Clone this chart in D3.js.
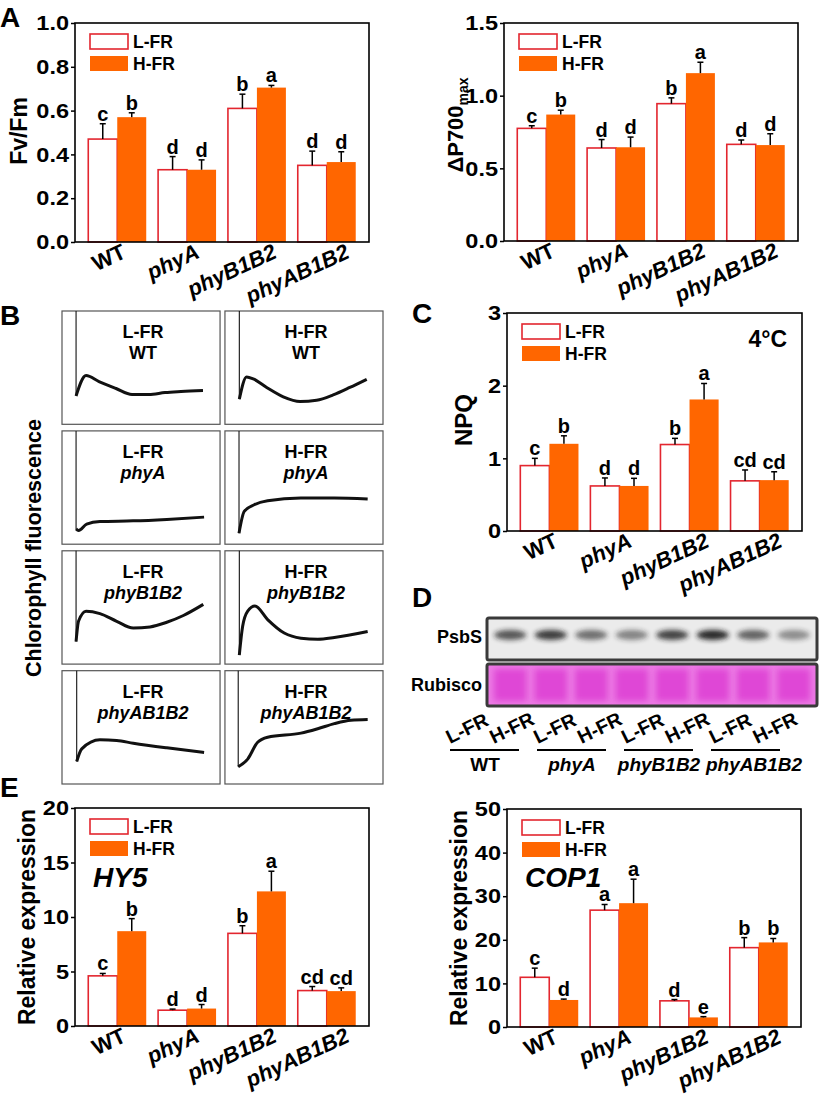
<!DOCTYPE html>
<html>
<head>
<meta charset="utf-8">
<script src="https://cdn.jsdelivr.net/npm/d3@7/dist/d3.min.js"></script>
<style>
  body { margin: 0; background: #fff; }
  text { font-family: "Liberation Sans", Arial, sans-serif; font-weight: bold; fill: #000; }
</style>
</head>
<body>
<svg id="fig" width="822" height="1099"></svg>
<script>
// Categories
var genotypes = ['WT', 'phyA', 'phyB1B2', 'phyAB1B2'];
var treatments = ['L-FR', 'H-FR'];

// A (left): Fv/Fm
var fvfmLow = [0.47, 0.33, 0.61, 0.35];
var fvfmLowErr = [0.07, 0.06, 0.065, 0.065];
var fvfmHigh = [0.57, 0.33, 0.705, 0.365];
var fvfmHighErr = [0.02, 0.045, 0.01, 0.047];
var fvfmLowLet = ['c', 'd', 'b', 'd'];
var fvfmHighLet = ['b', 'd', 'a', 'd'];
var fvfmTicks = [0, 0.2, 0.4, 0.6, 0.8, 1.0];

// A (right): dP700max
var p700Low = [0.775, 0.64, 0.945, 0.665];
var p700LowErr = [0.018, 0.058, 0.04, 0.03];
var p700High = [0.87, 0.645, 1.155, 0.66];
var p700HighErr = [0.03, 0.07, 0.075, 0.078];
var p700LowLet = ['c', 'd', 'b', 'd'];
var p700HighLet = ['b', 'd', 'a', 'd'];
var p700Ticks = [0, 0.5, 1.0, 1.5];

// C: NPQ at 4 C
var npqLow = [0.9, 0.62, 1.19, 0.69];
var npqLowErr = [0.1, 0.11, 0.085, 0.15];
var npqHigh = [1.2, 0.62, 1.81, 0.70];
var npqHighErr = [0.11, 0.105, 0.22, 0.115];
var npqLowLet = ['c', 'd', 'b', 'cd'];
var npqHighLet = ['b', 'd', 'a', 'cd'];
var npqTicks = [0, 1, 2, 3];

// E (left): HY5
var hy5Low = [4.6, 1.45, 8.5, 3.25];
var hy5LowErr = [0.22, 0.1, 0.7, 0.37];
var hy5High = [8.7, 1.6, 12.35, 3.2];
var hy5HighErr = [1.15, 0.37, 1.85, 0.3];
var hy5LowLet = ['c', 'd', 'b', 'cd'];
var hy5HighLet = ['b', 'd', 'a', 'cd'];
var hy5Ticks = [0, 5, 10, 15, 20];

// E (right): COP1
var cop1Low = [11.4, 26.8, 6.0, 18.2];
var cop1LowErr = [2.1, 1.3, 0.3, 2.3];
var cop1High = [6.2, 28.4, 2.2, 19.4];
var cop1HighErr = [0.2, 5.5, 0.17, 0.9];
var cop1LowLet = ['c', 'a', 'd', 'b'];
var cop1HighLet = ['d', 'a', 'e', 'b'];
var cop1Ticks = [0, 10, 20, 30, 40, 50];

// B: fluorescence traces, [time %, signal %]
var traceLowWT = [[8.9, 25], [15.2, 43], [23.4, 37.7], [34.2, 31.6], [44.3, 26.3], [55, 26.3], [65.2, 28], [75.3, 28.9], [89.2, 29.8]];
var traceHighWT = [[9.1, 22.2], [13.7, 41.8], [18, 40], [26.4, 32.5], [36.9, 24.3], [47.5, 20.2], [58, 21.3], [68.5, 26], [79, 32.5], [89.7, 39.7]];
var traceLowPhyA = [[8.9, 13.5], [10.5, 12], [15.6, 17.7], [24, 20], [45, 20.6], [66.3, 21.9], [89.9, 23.9]];
var traceHighPhyA = [[8.9, 9.7], [12.2, 28.9], [18.5, 34.8], [27, 38.3], [48, 40.7], [69.2, 40.7], [90.3, 39.8]];
var traceLowPhyB1B2 = [[8.9, 19.9], [10.5, 38], [15.2, 46.7], [24, 44.6], [34.6, 37.8], [45.1, 31.9], [55.7, 32.8], [66.3, 36.9], [76.8, 42.9], [89.4, 52.7]];
var traceHighPhyB1B2 = [[9.1, 8], [11.2, 33.3], [14.4, 46.7], [19, 51.2], [27, 39.3], [37.5, 27.4], [48.1, 22.9], [58.7, 22], [69.2, 23.5], [90.3, 28.8]];
var traceLowPhyAB1B2 = [[9.3, 19.9], [12.5, 31], [24, 39], [34.6, 38.4], [45.1, 36], [66.3, 31.9], [89.9, 27.9]];
var traceHighPhyAB1B2 = [[8.4, 15.2], [14.4, 22], [20.7, 36.9], [27, 41.3], [48.1, 44.9], [58.7, 48.8], [69.2, 53.3], [79.7, 56.3], [90.3, 56.9]];

// D: PsbS band darkness per lane (L-FR, H-FR for each genotype)
var psbsDensity = [0.72, 0.85, 0.6, 0.5, 0.82, 0.95, 0.66, 0.45];

var RED = '#e3262f', ORANGE = '#ff6600';
var FONT = '"Liberation Sans", Arial, sans-serif';
var svg = d3.select('#fig');
var defs = svg.append('defs');
defs.append('filter').attr('id', 'blurBand')
    .attr('x', '-50%').attr('y', '-100%').attr('width', '200%').attr('height', '300%')
  .append('feGaussianBlur').attr('stdDeviation', 2.8);
defs.append('filter').attr('id', 'blurLane')
    .attr('x', '-30%').attr('y', '-30%').attr('width', '160%').attr('height', '160%')
  .append('feGaussianBlur').attr('stdDeviation', 3);

// Stretch a text run sideways, the figure's font is wider than Arial.
function widen(sel, k) {
  sel.each(function() {
    var len = this.getComputedTextLength();
    d3.select(this).attr('textLength', len * k).attr('lengthAdjust', 'spacingAndGlyphs');
  });
}

// Bar chart panel (A, C, E)
function barPanel(c) {
  var g = svg.append('g');
  var x = d3.scaleBand().domain(genotypes).range([c.x, c.x + c.w]).paddingInner(0.17).paddingOuter(0.19);
  var xs = d3.scaleBand().domain(treatments).range([0, x.bandwidth()]);
  var y = d3.scaleLinear().domain([0, c.ticks[c.ticks.length - 1]]).range([c.y + c.h, c.y]);

  var rows = [];
  genotypes.forEach(function(gt, i) {
    rows.push({g: gt, t: 'L-FR', v: c.low[i], e: c.lowErr[i], s: c.lowLet[i]});
    rows.push({g: gt, t: 'H-FR', v: c.high[i], e: c.highErr[i], s: c.highLet[i]});
  });
  var cx = function(d) { return x(d.g) + xs(d.t) + xs.bandwidth() / 2; };

  // Bars.
  g.selectAll('rect.bar').data(rows).enter().append('rect')
    .attr('class', 'bar')
    .attr('x', function(d) { return x(d.g) + xs(d.t); })
    .attr('y', function(d) { return y(d.v); })
    .attr('width', xs.bandwidth())
    .attr('height', function(d) { return y(0) - y(d.v); })
    .attr('fill', function(d) { return d.t === 'L-FR' ? '#fff' : ORANGE; })
    .attr('stroke', function(d) { return d.t === 'L-FR' ? RED : 'none'; })
    .attr('stroke-width', 1.6);

  // Error bars, upper half only.
  var err = g.selectAll('g.err').data(rows).enter().append('g').attr('class', 'err');
  err.append('line')
    .attr('x1', cx).attr('x2', cx)
    .attr('y1', function(d) { return y(d.v); })
    .attr('y2', function(d) { return y(d.v + d.e); })
    .attr('stroke', '#000').attr('stroke-width', 1.5);
  err.append('line')
    .attr('x1', function(d) { return cx(d) - 3; })
    .attr('x2', function(d) { return cx(d) + 3; })
    .attr('y1', function(d) { return y(d.v + d.e); })
    .attr('y2', function(d) { return y(d.v + d.e); })
    .attr('stroke', '#000').attr('stroke-width', 1.5);

  // Significance letters.
  g.selectAll('text.sig').data(rows).enter().append('text')
    .attr('class', 'sig')
    .attr('x', cx)
    .attr('y', function(d) { return y(d.v + d.e) - 3; })
    .attr('text-anchor', 'middle')
    .style('font-size', '20px')
    .text(function(d) { return d.s; });

  // Frame.
  g.append('rect')
    .attr('x', c.x).attr('y', c.y).attr('width', c.w).attr('height', c.h)
    .attr('fill', 'none').attr('stroke', '#000').attr('stroke-width', 1.6);

  // Y axis.
  var ya = g.append('g').attr('transform', 'translate(' + c.x + ',0)')
    .call(d3.axisLeft(y).tickValues(c.ticks).tickSize(4).tickPadding(2).tickFormat(c.fmt));
  ya.select('.domain').remove();
  ya.selectAll('line').attr('stroke', '#000').attr('stroke-width', 1.5);
  ya.selectAll('text')
    .style('font-family', FONT)
    .style('font-weight', 'bold').style('font-size', '21px');
  widen(ya.selectAll('text'), 1.12);

  // Category labels.
  var xa = g.append('g').attr('transform', 'translate(0,' + (c.y + c.h) + ')')
    .call(d3.axisBottom(x).tickSize(0));
  xa.select('.domain').remove();
  xa.selectAll('text')
    .attr('y', 0).attr('dy', 0)
    .attr('text-anchor', 'end')
    .style('font-family', FONT)
    .style('font-weight', 'bold').style('font-size', '22px')
    .style('font-style', function(d) { return d === 'WT' ? 'normal' : 'italic'; })
    .attr('transform', function() {
      var len = this.getComputedTextLength();
      return 'translate(' + (0.18 * len + 4) + ',15) rotate(-25)';
    });

  // Y title.
  var title = g.append('text')
    .attr('transform', 'translate(' + c.titleX + ',' + c.titleY + ') rotate(-90)')
    .attr('text-anchor', 'middle')
    .style('font-size', c.titleSize || '22px');
  title.append('tspan').text(c.title);
  if (c.titleSub) {
    title.append('tspan').attr('dy', 5).style('font-size', '14px').text(c.titleSub);
  }

  // Legend.
  var leg = g.selectAll('g.leg').data(treatments).enter().append('g')
    .attr('class', 'leg')
    .attr('transform', function(d, i) { return 'translate(' + (c.x + 15) + ',' + (c.y + 11 + i * 22) + ')'; });
  leg.append('rect')
    .attr('width', 38).attr('height', 15)
    .attr('fill', function(d) { return d === 'L-FR' ? '#fff' : ORANGE; })
    .attr('stroke', function(d) { return d === 'L-FR' ? RED : 'none'; })
    .attr('stroke-width', 1.6);
  leg.append('text').attr('x', 43).attr('y', 14).style('font-size', '17.5px').text(function(d) { return d; });

  if (c.note) {
    g.append('text')
      .attr('x', c.note.x).attr('y', c.note.y)
      .attr('text-anchor', c.note.anchor || 'start')
      .style('font-size', c.note.size)
      .style('font-style', c.note.italic ? 'italic' : 'normal')
      .text(c.note.text);
  }
}

barPanel({x: 75, y: 23, w: 294, h: 219, ticks: fvfmTicks, fmt: d3.format('.1f'),
  low: fvfmLow, lowErr: fvfmLowErr, high: fvfmHigh, highErr: fvfmHighErr, lowLet: fvfmLowLet, highLet: fvfmHighLet,
  title: 'Fv/Fm', titleX: 27, titleY: 131, titleSize: '23px'});

barPanel({x: 504, y: 23, w: 294, h: 218, ticks: p700Ticks, fmt: d3.format('.1f'),
  low: p700Low, lowErr: p700LowErr, high: p700High, highErr: p700HighErr, lowLet: p700LowLet, highLet: p700HighLet,
  title: '\u0394P700', titleSub: 'max', titleSize: '22px', titleX: 463, titleY: 125});

barPanel({x: 507, y: 313, w: 295, h: 218, ticks: npqTicks, fmt: d3.format('d'),
  low: npqLow, lowErr: npqLowErr, high: npqHigh, highErr: npqHighErr, lowLet: npqLowLet, highLet: npqHighLet,
  title: 'NPQ', titleX: 472, titleY: 420, titleSize: '24px',
  note: {text: '4\u00B0C', x: 787, y: 347, size: '23px', anchor: 'end'}});

barPanel({x: 75, y: 808, w: 294, h: 218, ticks: hy5Ticks, fmt: d3.format('d'),
  low: hy5Low, lowErr: hy5LowErr, high: hy5High, highErr: hy5HighErr, lowLet: hy5LowLet, highLet: hy5HighLet,
  title: 'Relative expression', titleX: 35, titleY: 917, titleSize: '23px',
  note: {text: 'HY5', x: 93, y: 887, size: '28px', italic: true}});

barPanel({x: 507, y: 809, w: 294, h: 218, ticks: cop1Ticks, fmt: d3.format('d'),
  low: cop1Low, lowErr: cop1LowErr, high: cop1High, highErr: cop1HighErr, lowLet: cop1LowLet, highLet: cop1HighLet,
  title: 'Relative expression', titleX: 467, titleY: 918, titleSize: '23px',
  note: {text: 'COP1', x: 525, y: 887, size: '28px', italic: true}});

// B: chlorophyll fluorescence traces
var traces = {
  'L-FR': [traceLowWT, traceLowPhyA, traceLowPhyB1B2, traceLowPhyAB1B2],
  'H-FR': [traceHighWT, traceHighPhyA, traceHighPhyB1B2, traceHighPhyAB1B2]
};
var rowScale = d3.scaleBand().domain(genotypes).range([311, 784]).paddingInner(0.055);
var colScale = d3.scaleBand().domain(treatments).range([62, 383]).paddingInner(0.03);
var gB = svg.append('g');
genotypes.forEach(function(gt, i) {
  treatments.forEach(function(t) {
    var bx = colScale(t), by = rowScale(gt);
    var tx = d3.scaleLinear().domain([0, 100]).range([bx, bx + colScale.bandwidth()]);
    var ty = d3.scaleLinear().domain([0, 100]).range([by + rowScale.bandwidth(), by]);
    var pts = traces[t][i];
    gB.append('rect')
      .attr('x', bx).attr('y', by)
      .attr('width', colScale.bandwidth()).attr('height', rowScale.bandwidth())
      .attr('fill', '#fff').attr('stroke', '#555').attr('stroke-width', 1.2);
    gB.append('line')
      .attr('x1', tx(pts[0][0])).attr('x2', tx(pts[0][0]))
      .attr('y1', ty(100)).attr('y2', ty(pts[0][1]))
      .attr('stroke', '#111').attr('stroke-width', 1.1);
    gB.append('path')
      .attr('d', d3.line().x(function(d) { return tx(d[0]); }).y(function(d) { return ty(d[1]); })
        .curve(d3.curveMonotoneX)(pts))
      .attr('fill', 'none').attr('stroke', '#111').attr('stroke-width', 3)
      .attr('stroke-linejoin', 'round');
    var mid = bx + colScale.bandwidth() / 2 + 2;
    gB.append('text').attr('x', mid).attr('y', by + 27).attr('text-anchor', 'middle')
      .style('font-size', '18px').text(t);
    gB.append('text').attr('x', mid).attr('y', by + 48).attr('text-anchor', 'middle')
      .style('font-size', '18px').style('font-style', gt === 'WT' ? 'normal' : 'italic').text(gt);
  });
});
gB.append('text')
  .attr('transform', 'translate(41,548) rotate(-90)')
  .attr('text-anchor', 'middle').style('font-size', '21.5px')
  .text('Chlorophyll fluorescence');

// D: immunoblot
var lanes = [];
genotypes.forEach(function(gt) { treatments.forEach(function(t) { lanes.push({g: gt, t: t}); }); });
lanes.forEach(function(d, i) { d.i = i; d.density = psbsDensity[i]; });
var laneX = d3.scaleBand().domain(d3.range(8)).range([490, 814]);
var labelX = d3.scalePoint().domain(d3.range(8)).range([450, 757]);
var gD = svg.append('g');

// PsbS strip
gD.append('rect').attr('x', 487).attr('y', 618).attr('width', 330).attr('height', 42)
  .attr('rx', 2).attr('fill', '#ebebeb');
gD.selectAll('ellipse.band').data(lanes).enter().append('ellipse')
  .attr('cx', function(d) { return laneX(d.i) + laneX.bandwidth() / 2; })
  .attr('cy', 635)
  .attr('rx', 16).attr('ry', 5)
  .attr('fill', '#1a1a1a')
  .attr('opacity', function(d) { return d.density; })
  .attr('filter', 'url(#blurBand)');
gD.append('rect').attr('x', 487).attr('y', 618).attr('width', 330).attr('height', 42)
  .attr('rx', 2).attr('fill', 'none').attr('stroke', '#3a3a3a').attr('stroke-width', 3);

// Rubisco strip
gD.append('rect').attr('x', 487).attr('y', 664).attr('width', 330).attr('height', 42)
  .attr('rx', 2).attr('fill', '#ec7ae4');
gD.selectAll('rect.lane').data(lanes).enter().append('rect')
  .attr('x', function(d) { return laneX(d.i) + 4; })
  .attr('y', 669)
  .attr('width', laneX.bandwidth() - 8).attr('height', 32)
  .attr('fill', '#df46d6')
  .attr('filter', 'url(#blurLane)');
gD.append('rect').attr('x', 487).attr('y', 664).attr('width', 330).attr('height', 42)
  .attr('rx', 2).attr('fill', 'none').attr('stroke', '#3a3a3a').attr('stroke-width', 3);

gD.append('text').attr('x', 482).attr('y', 643).attr('text-anchor', 'end').style('font-size', '18px').text('PsbS');
gD.append('text').attr('x', 482).attr('y', 691).attr('text-anchor', 'end').style('font-size', '18px').text('Rubisco');

gD.selectAll('text.lane').data(lanes).enter().append('text')
  .attr('class', 'lane')
  .attr('transform', function(d) { return 'translate(' + labelX(d.i) + ',744) rotate(-26)'; })
  .style('font-size', '19.5px')
  .text(function(d) { return d.t; });

var groupStart = d3.scalePoint().domain(genotypes).range([450, 711]);
gD.selectAll('line.grp').data(genotypes).enter().append('line')
  .attr('x1', function(d) { return groupStart(d); })
  .attr('x2', function(d) { return groupStart(d) + 69; })
  .attr('y1', 750).attr('y2', 750)
  .attr('stroke', '#000').attr('stroke-width', 2);
gD.selectAll('text.grp').data(genotypes).enter().append('text')
  .attr('x', function(d, i) { return groupStart(d) + 35 + (i === 3 ? 8 : 0); })
  .attr('y', 771)
  .attr('text-anchor', 'middle')
  .style('font-size', '19px')
  .style('font-style', function(d) { return d === 'WT' ? 'normal' : 'italic'; })
  .text(function(d) { return d; });

// Panel letters
var panelLetters = ['A', 'B', 'C', 'D', 'E'];
var panelPos = [[0, 27], [0, 325], [412, 323], [412, 607], [0, 797]];
svg.selectAll('text.panel').data(panelLetters).enter().append('text')
  .attr('class', 'panel')
  .attr('x', function(d, i) { return panelPos[i][0]; })
  .attr('y', function(d, i) { return panelPos[i][1]; })
  .style('font-size', '28px')
  .text(function(d) { return d; });
</script>
</body>
</html>
